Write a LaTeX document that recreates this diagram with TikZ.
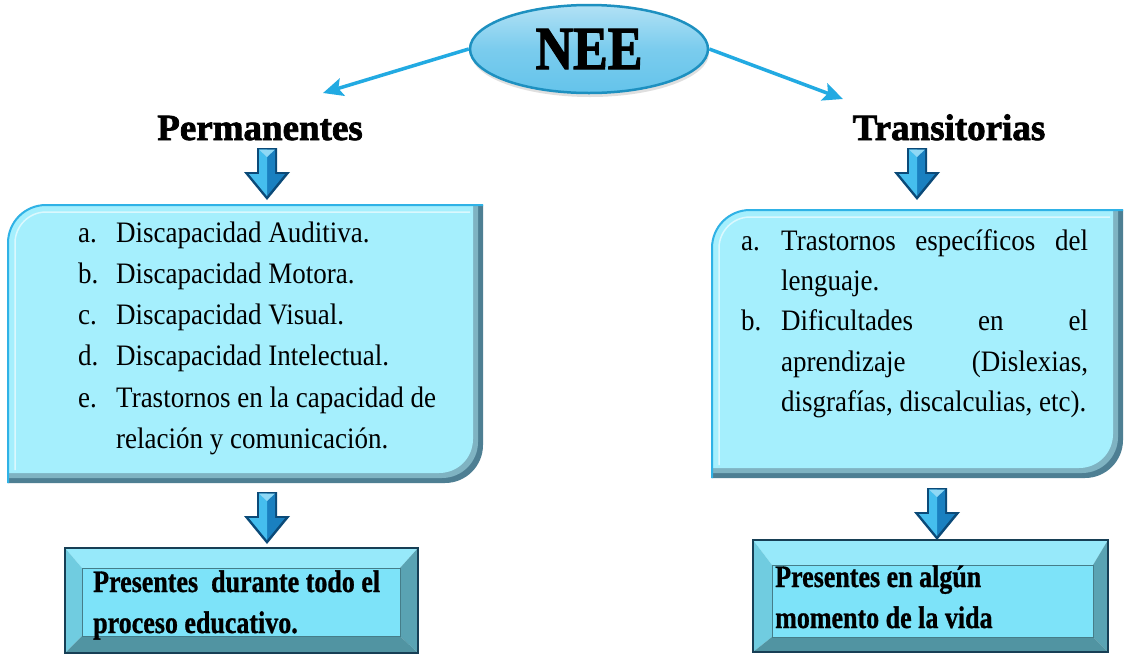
\documentclass[tikz,border=0pt]{standalone}
\usepackage{fontspec}
\setmainfont{Liberation Serif}
\newfontface\heavyfont{Liberation Serif Bold}[FakeBold=2]
\newfontface\semiheavyfont{Liberation Serif Bold}[FakeBold=1]
\usepackage{graphicx}
\usetikzlibrary{arrows.meta,shapes.geometric}
\definecolor{linkblue}{HTML}{22AAE2}
\definecolor{boxdark}{HTML}{4E7F93}
\definecolor{boxmid}{HTML}{7FB3C2}
\definecolor{boxlight}{HTML}{A5EFFD}
\definecolor{boxedge}{HTML}{2FB2E6}
\definecolor{arrdark}{HTML}{0B4A78}
\definecolor{arrmid}{HTML}{1A80C0}
\definecolor{arrlight}{HTML}{45BEEE}
\definecolor{btmouter}{HTML}{173F55}
\definecolor{btmfill}{HTML}{7DE3F9}
\newcommand\tallA[1]{\scalebox{1}[1.1]{#1}}
\newcommand\tallB[1]{\scalebox{1}[1.2]{#1}}
\tikzset{
  conn/.style={draw=linkblue, line width=3.5pt, -{Stealth[length=20pt,width=18pt,inset=4pt]}},
  bodytext/.style={anchor=base west, inner sep=0pt, font=\fontsize{27}{32}\selectfont},
  btmtext/.style={anchor=base west, inner sep=0pt, font=\semiheavyfont\fontsize{26}{30}\selectfont},
  titletext/.style={anchor=base, inner sep=0pt, font=\heavyfont\fontsize{37}{40}\selectfont},
  downarrow/.pic={
    \fill[arrdark] (-10,0) -- (10,0) -- (10,24) -- (23,24) -- (0,52) -- (-23,24) -- (-10,24) -- cycle;
    \fill[arrmid] (-8,1.5) -- (8,1.5) -- (8,26) -- (18,26) -- (0,48) -- (-18,26) -- (-8,26) -- cycle;
    \fill[arrlight] (-8,1.5) -- (0,1.5) -- (0,12) -- (0,48) -- (-18,26) -- (-8,26) -- cycle;
    \fill[arrlight!60!white] (-8,1.5) -- (8,1.5) -- (0,9) -- cycle;
  }
}
\begin{document}
\begin{tikzpicture}[x=1pt,y=-1pt]
\useasboundingbox (0,0) rectangle (1130,654);
\fill[white] (0,0) rectangle (1130,654);

% ---------- NEE ellipse ----------
\fill[black!35,opacity=0.35] (590,53) ellipse [x radius=119, y radius=44];
\node[ellipse, minimum width=238pt, minimum height=88pt, inner sep=0pt,
      top color=linkblue!35!white, bottom color=linkblue!70!white, middle color=linkblue!60!white,
      draw=linkblue!85!black, line width=2.5pt] (nee) at (589,49)
      {\heavyfont\fontsize{52}{60}\selectfont\scalebox{1}[1.18]{NEE}};

% ---------- titles ----------
\node[titletext] (perm) at (260,140) {Permanentes};
\node[titletext] (trans) at (949,140) {Transitorias};
\coordinate (ptip) at (323,93);
\coordinate (ttip) at (843,99);
\draw[conn] (nee.west) -- (ptip);
\draw[conn] (nee.east) -- (ttip);

% ---------- left body box ----------
\fill[boxdark] (8,243) .. controls (8,222) and (25,205) .. (46,205) -- (483,205) -- (483,445) .. controls (483,466) and (466,483) .. (445,483) -- (8,483) -- cycle;
\fill[boxmid] (8,241) .. controls (8,221.1) and (24.1,205) .. (44,205) -- (478,205) -- (478,442) .. controls (478,461.9) and (461.9,478) .. (442,478) -- (8,478) -- cycle;
\fill[boxlight] (9,240) .. controls (9,221) and (24,206) .. (43,206) -- (473,206) -- (473,439) .. controls (473,458) and (458,473) .. (439,473) -- (9,473) -- cycle;
\draw[white,opacity=0.6,line width=1.5pt] (15,470) -- (15,243) .. controls (15,226) and (29,212) .. (46,212) -- (470,212);
\draw[boxedge,line width=2pt] (8,483) -- (8,243) .. controls (8,222) and (25,205) .. (46,205) -- (483,205);

% ---------- right body box ----------
\fill[boxdark] (712,248) .. controls (712,227) and (729,210) .. (750,210) -- (1123,210) -- (1123,440) .. controls (1123,461) and (1106,478) .. (1085,478) -- (712,478) -- cycle;
\fill[boxmid] (712,246) .. controls (712,226.1) and (728.1,210) .. (748,210) -- (1118,210) -- (1118,437) .. controls (1118,456.9) and (1101.9,473) .. (1082,473) -- (712,473) -- cycle;
\fill[boxlight] (713,245) .. controls (713,226) and (728,211) .. (747,211) -- (1113,211) -- (1113,434) .. controls (1113,453) and (1098,468) .. (1079,468) -- (713,468) -- cycle;
\draw[white,opacity=0.6,line width=1.5pt] (719,465) -- (719,248) .. controls (719,231) and (733,217) .. (750,217) -- (1110,217);
\draw[boxedge,line width=2pt] (712,478) -- (712,248) .. controls (712,227) and (729,210) .. (750,210) -- (1123,210);

% ---------- block arrows ----------
\pic at (267,148) {downarrow};
\pic at (267,492) {downarrow};
\pic at (917,148) {downarrow};
\pic at (937,488) {downarrow};

% ---------- left list ----------
\node[bodytext] (p1) at (78,242)   {\tallA{\makebox[38pt][l]{a.}Discapacidad Auditiva.}};
\node[bodytext] (p2) at (78,283.3) {\tallA{\makebox[38pt][l]{b.}Discapacidad Motora.}};
\node[bodytext] (p3) at (78,324.6) {\tallA{\makebox[38pt][l]{c.}Discapacidad Visual.}};
\node[bodytext] (p4) at (78,365.9) {\tallA{\makebox[38pt][l]{d.}Discapacidad Intelectual.}};
\node[bodytext] (p5) at (78,407.2) {\tallA{\makebox[38pt][l]{e.}Trastornos en la capacidad de}};
\node[bodytext] (p6) at (116,448.5) {\tallA{relación y comunicación.}};

% ---------- right list ----------
\node[bodytext] (t1) at (741,250)   {\tallA{\makebox[40pt][l]{a.}\makebox[307pt][s]{Trastornos específicos del}}};
\node[bodytext] (t2) at (781,290.4) {\tallA{lenguaje.}};
\node[bodytext] (t3) at (741,330.8) {\tallA{\makebox[40pt][l]{b.}\makebox[307pt][s]{Dificultades en el}}};
\node[bodytext] (t4) at (781,371.2) {\tallA{\makebox[307pt][s]{aprendizaje (Dislexias,}}};
\node[bodytext] (t5) at (781,411.6) {\tallA{disgrafías, discalculias, etc).}};

% ---------- bottom left box ----------
\fill[btmfill!80!white] (65,548) -- (418,548) -- (400,568) -- (82,568) -- cycle;
\fill[btmfill!90!black] (65,548) -- (82,568) -- (82,636) -- (65,653) -- cycle;
\fill[btmfill!72!black] (418,548) -- (418,653) -- (400,636) -- (400,568) -- cycle;
\fill[btmfill!65!black] (65,653) -- (82,636) -- (400,636) -- (418,653) -- cycle;
\draw[btmouter,line width=2.5pt] (65,548) rectangle (418,653);
\draw[fill=btmfill,draw=btmfill!55!black,line width=0.6pt] (82,568) rectangle (400,636);
\node[btmtext] (b1) at (93,592) {\tallB{Presentes \ durante todo el}};
\node[btmtext] (b2) at (93,633) {\tallB{proceso educativo.}};

% ---------- bottom right box ----------
\fill[btmfill!80!white] (753,540) -- (1108,540) -- (1093,565) -- (772,565) -- cycle;
\fill[btmfill!90!black] (753,540) -- (772,565) -- (772,637) -- (753,652) -- cycle;
\fill[btmfill!72!black] (1108,540) -- (1108,652) -- (1093,637) -- (1093,565) -- cycle;
\fill[btmfill!65!black] (753,652) -- (772,637) -- (1093,637) -- (1108,652) -- cycle;
\draw[btmouter,line width=2.5pt] (753,540) rectangle (1108,652);
\draw[fill=btmfill,draw=btmfill!55!black,line width=0.6pt] (772,565) rectangle (1093,637);
\node[btmtext] (c1) at (775,587) {\tallB{Presentes en algún}};
\node[btmtext] (c2) at (775,628) {\tallB{momento de la vida}};
\end{tikzpicture}
\end{document}
